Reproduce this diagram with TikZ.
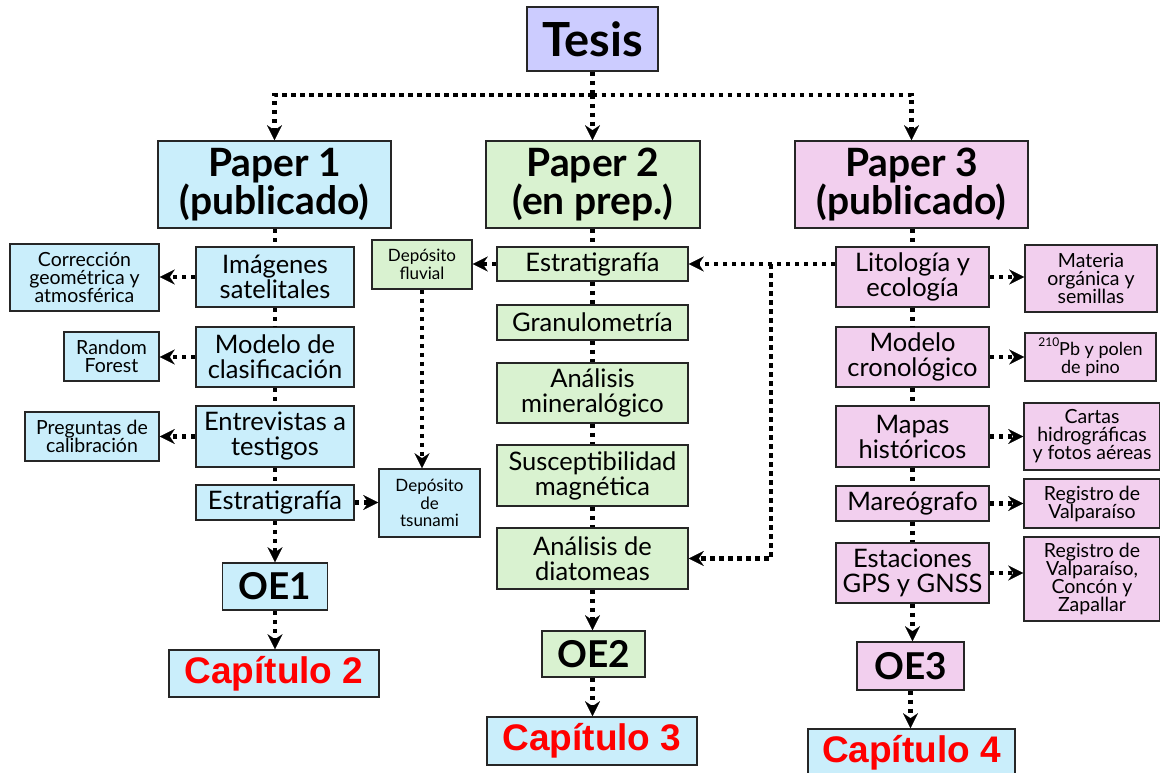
\documentclass[tikz,border=0pt]{standalone}
\usepackage{fontspec}
\setmainfont{Lato}
\newfontfamily\capfont{Liberation Sans}
\usetikzlibrary{arrows.meta}
\definecolor{cblue}{HTML}{CAEEFB}
\definecolor{cgreen}{HTML}{D9F2D0}
\definecolor{cpink}{HTML}{F2CFEE}
\definecolor{clav}{HTML}{CCCCFF}
\definecolor{cred}{HTML}{FF0000}
\tikzset{
  box/.style={draw=black!85, line width=1.6pt, inner sep=0pt, align=center, text=black},
  bbox/.style={box, fill=cblue},
  gbox/.style={box, fill=cgreen},
  pbox/.style={box, fill=cpink},
  titlef/.style={font=\fontsize{47}{50}\selectfont\bfseries},
  paperf/.style={font=\fontsize{39}{38}\selectfont\bfseries},
  mainf/.style={font=\fontsize{25.5}{25}\selectfont},
  smallf/.style={font=\fontsize{19.5}{18}\selectfont},
  tinyf/.style={font=\fontsize{17}{17.5}\selectfont},
  oef/.style={font=\fontsize{37}{40}\selectfont\bfseries},
  capf/.style={font=\capfont\fontsize{37}{40}\selectfont\bfseries, text=cred},
  conn/.style={line width=4.5pt, dash pattern=on 4.5pt off 4.5pt, black},
  arr/.style={conn, -{Stealth[length=15pt, width=15pt, inset=5pt, line width=0.1pt]}},
}
\newcommand{\isotope}[1]{\raisebox{0.5em}{\fontsize{12}{12}\selectfont #1}}
\begin{document}
\begin{tikzpicture}[x=1pt, y=-1pt]
\useasboundingbox (0,0) rectangle (1160,773);

% top level
\node[box, fill=clav, titlef, minimum width=131pt, minimum height=64pt] (tesis) at (592.5,39) {Tesis};
\node[bbox, paperf, minimum width=233pt, minimum height=87pt] (p1) at (274.5,184.5) {Paper 1\\(publicado)};
\node[gbox, paperf, minimum width=214pt, minimum height=87pt] (p2) at (593,184.5) {Paper 2\\(en prep.)};
\node[pbox, paperf, minimum width=233pt, minimum height=87pt] (p3) at (911.5,184.5) {Paper 3\\(publicado)};

% column 1
\node[bbox, mainf, minimum width=158pt, minimum height=60pt] (img) at (275,277) {Imágenes\\satelitales};
\node[bbox, mainf, minimum width=158pt, minimum height=60pt] (mod) at (275,357) {Modelo de\\clasificación};
\node[bbox, mainf, minimum width=158pt, minimum height=61pt] (ent) at (275,436.5) {Entrevistas a\\testigos};
\node[bbox, mainf, minimum width=158pt, minimum height=35pt] (est1) at (275,502.5) {Estratigrafía};
\node[bbox, oef, minimum width=105pt, minimum height=47pt] (oe1) at (275,586.5) {OE1};
\node[bbox, capf, minimum width=210pt, minimum height=47pt] (cap2) at (274,673.5) {Capítulo 2};

\node[bbox, smallf, minimum width=149pt, minimum height=67pt] (cor) at (84.5,277.5) {Corrección\\geométrica y\\atmosférica};
\node[bbox, smallf, minimum width=95pt, minimum height=49pt] (rf) at (111.5,356.5) {Random\\Forest};
\node[bbox, smallf, minimum width=134pt, minimum height=49pt] (pre) at (92,436.5) {Preguntas de\\calibración};
\node[gbox, tinyf, minimum width=100pt, minimum height=49pt] (fluv) at (422,264.5) {Depósito\\fluvial};
\node[bbox, tinyf, minimum width=101pt, minimum height=68pt] (tsu) at (429.5,503) {Depósito\\de\\tsunami};

% column 2
\node[gbox, mainf, minimum width=191pt, minimum height=34pt] (est2) at (592.5,264) {Estratigrafía};
\node[gbox, mainf, minimum width=191pt, minimum height=35pt] (gran) at (592.5,322.5) {Granulometría};
\node[gbox, mainf, minimum width=191pt, minimum height=60pt] (mine) at (592.5,393) {Análisis\\mineralógico};
\node[gbox, mainf, minimum width=191pt, minimum height=61pt] (sus) at (592.5,475.5) {Susceptibilidad\\magnética};
\node[gbox, mainf, minimum width=191pt, minimum height=61pt] (dia) at (592.5,558.5) {Análisis de\\diatomeas};
\node[gbox, oef, minimum width=103pt, minimum height=46pt] (oe2) at (593.5,654) {OE2};
\node[bbox, capf, minimum width=210pt, minimum height=48pt] (cap3) at (592,741) {Capítulo 3};

% column 3
\node[pbox, mainf, minimum width=153pt, minimum height=60pt] (lit) at (912.5,277) {Litología y\\ecología};
\node[pbox, mainf, minimum width=153pt, minimum height=60pt] (cro) at (912.5,357) {Modelo\\cronológico};
\node[pbox, mainf, minimum width=153pt, minimum height=61pt] (map) at (912.5,436.5) {Mapas\\históricos};
\node[pbox, mainf, minimum width=153pt, minimum height=35pt] (mar) at (912.5,503.5) {Mareógrafo};
\node[pbox, mainf, minimum width=153pt, minimum height=60pt] (gps) at (912.5,573) {Estaciones\\GPS y GNSS};
\node[pbox, oef, minimum width=107pt, minimum height=48pt] (oe3) at (910.5,666) {OE3};
\node[bbox, capf, minimum width=207pt, minimum height=48pt] (cap4) at (911.5,753) {Capítulo 4};

\node[pbox, smallf, minimum width=132pt, minimum height=67pt] (mat) at (1091,278.5) {Materia\\orgánica y\\semillas};
\node[pbox, font=\fontsize{18}{18}\selectfont, minimum width=131pt, minimum height=48pt] (pb) at (1090.5,357) {\isotope{210}Pb y polen\\de pino};
\node[pbox, smallf, minimum width=136pt, minimum height=67pt] (car) at (1092,436.5) {Cartas\\hidrográficas\\y fotos aéreas};
\node[pbox, smallf, minimum width=136pt, minimum height=49pt] (reg1) at (1092,503.5) {Registro de\\Valparaíso};
\node[pbox, smallf, minimum width=136pt, minimum height=84pt] (reg2) at (1092,579) {Registro de\\Valparaíso,\\Concón y\\Zapallar};

% connectors from the thesis to the papers
\coordinate (hub) at (592.5,95);
\draw[conn] (tesis.south) -- (hub);
\draw[arr] (hub) -- (hub |- p2.north);
\draw[arr] (hub) -| (p1.north);
\draw[arr] (hub) -| (p3.north);

% column 1 chain
\draw[conn] (p1.south -| img.north) -- (img.north);
\draw[conn] (img.south) -- (mod.north);
\draw[conn] (mod.south) -- (ent.north);
\draw[conn] (ent.south) -- (est1.north);
\draw[arr] (est1.south) -- (est1.south |- oe1.north);
\draw[arr] (oe1.south) -- (oe1.south |- cap2.north);
\draw[arr] (img.west) -- (cor.east |- img.west);
\draw[arr] (mod.west) -- (rf.east |- mod.west);
\draw[arr] (ent.west) -- (pre.east |- ent.west);
\draw[arr] (est1.east) -- (tsu.west |- est1.east);

% column 2 chain
\draw[conn] (p2.south -| est2.north) -- (est2.north);
\draw[conn] (est2.south) -- (gran.north);
\draw[conn] (gran.south) -- (mine.north);
\draw[conn] (mine.south) -- (sus.north);
\draw[conn] (sus.south) -- (dia.north);
\draw[arr] (dia.south) -- (dia.south |- oe2.north);
\draw[arr] (oe2.south -| dia.south) -- (dia.south |- cap3.north);
\draw[arr] (est2.west) -- (fluv.east |- est2.west);
\draw[arr] (fluv.south) -- (fluv.south |- tsu.north);

% column 3 chain
\draw[conn] (p3.south -| lit.north) -- (lit.north);
\draw[conn] (lit.south) -- (cro.north);
\draw[conn] (cro.south) -- (map.north);
\draw[conn] (map.south) -- (mar.north);
\draw[conn] (mar.south) -- (gps.north);
\draw[arr] (gps.south) -- (gps.south |- oe3.north);
\draw[arr] (oe3.south) -- (oe3.south |- cap4.north);
\draw[arr] (lit.east) -- (mat.west |- lit.east);
\draw[arr] (cro.east) -- (pb.west |- cro.east);
\draw[arr] (map.east) -- (car.west |- map.east);
\draw[arr] (mar.east) -- (reg1.west |- mar.east);
\draw[arr] (gps.east) -- (reg2.west |- gps.east);

% links from lithology back to stratigraphy and diatoms
\coordinate (jn) at (771,264);
\draw[arr] (lit.west |- est2.east) -- (est2.east);
\draw[arr] (jn) |- (dia.east);
\end{tikzpicture}
\end{document}
